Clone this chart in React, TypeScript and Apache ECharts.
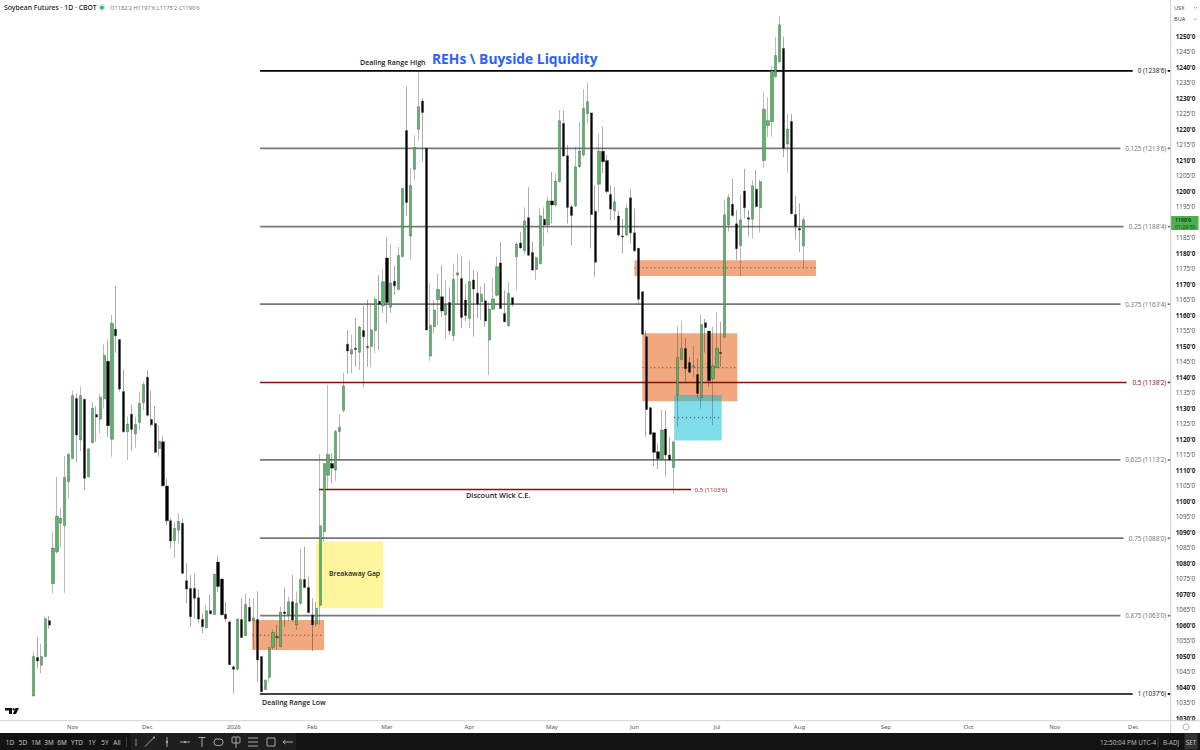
import React, { useEffect, useRef } from "react";
import * as echarts from "echarts";

// [open, close, low, high] per daily bar
const candles: number[][] = [
  [1037.1,1049.8,1037,1051.4],[1049.5,1048.4,1046,1056.2],[1047,1049.8,1044.4,1054],[1049.8,1062,1049.7,1062.7],[1061.4,1060,1058.7,1062.9],
  [1073.4,1084.8,1070.2,1090.1],[1083.6,1095.1,1083,1107.8],[1092.8,1094.5,1085.2,1097.9],[1092,1107.6,1070.4,1114.5],[1106.2,1115.1,1100.8,1115.3],
  [1113.7,1134,1113.5,1135.6],[1133.1,1121.3,1112.5,1134.7],[1119.7,1134,1116.1,1136.9],[1132.8,1107.3,1103.5,1133],[1107.8,1116.8,1107.6,1117],
  [1118.8,1129.9,1118.6,1132],[1127.9,1127.1,1119.1,1130.6],[1126.4,1133.5,1121.8,1134.5],[1132.9,1147,1129.9,1150.5],[1145.1,1124.3,1120.7,1152.1],
  [1119.9,1157.3,1114.3,1160],[1155.4,1153.3,1147.8,1169.3],[1152.1,1136.1,1135.3,1152.2],[1135.3,1122.3,1122.1,1142.5],[1122.3,1124.8,1113.2,1127.2],
  [1128,1123.1,1116.2,1131],[1121.6,1124.7,1117.2,1127.2],[1125.3,1131.5,1122.9,1135.3],[1131.7,1137.6,1129.3,1138.5],[1139.9,1127.7,1127.2,1142.2],
  [1126.3,1124.6,1124,1135.6],[1125,1115.7,1115.4,1130.6],[1116.9,1119.3,1114.3,1124.5],[1119.1,1104.9,1104.6,1120.9],[1104.8,1093.6,1092.2,1107.3],
  [1093.6,1087.1,1084.7,1094.4],[1087.2,1091.2,1081.5,1093.1],[1090.6,1093.4,1086.3,1096],[1092.8,1076.7,1076.4,1094.4],[1074.3,1071.6,1067,1079.9],
  [1071.8,1062.7,1059.4,1076.1],[1071.8,1068.6,1062.1,1076.6],[1068.8,1061.9,1060.5,1071.5],[1061.8,1059.4,1057.3,1063.7],[1059.1,1064.6,1058.9,1066.4],
  [1064.6,1063.6,1063.4,1069.7],[1063.4,1076.4,1063.2,1076.6],[1080.3,1072.4,1070.7,1082.3],[1074.8,1063.3,1063.1,1075],[1063.5,1062,1061,1067.5],
  [1061,1047.2,1047.1,1061.5],[1046.5,1045.7,1037.9,1047],[1045.7,1061.9,1045.5,1062.1],[1061.8,1056,1055.7,1068.6],[1056.5,1066.6,1056.4,1070.2],
  [1065.7,1061.2,1061,1068.6],[1061.4,1062.3,1052,1068.6],[1061.8,1048.7,1041.7,1070.9],[1049.8,1038.5,1038.3,1049.8],[1039.2,1042.2,1039,1042.4],
  [1043.1,1052.7,1041.4,1053],
  [1052.8,1057.6,1052,1058.5],[1056.2,1056,1052,1060],[1053,1064.2,1052.8,1065.9],[1064.2,1063.7,1059.4,1072.1],[1063.2,1067.5,1061.1,1069.1],
  [1067.5,1061.6,1061.1,1076.1],[1060,1067,1058.4,1070.7],[1067,1074.7,1066.4,1084.5],[1074.7,1072.1,1071.8,1085.3],[1072.1,1064,1063.7,1075.6],
  [1063.2,1060,1051.6,1068.6],[1060.3,1065.4,1059.5,1067.5],[1066.4,1092,1060,1115.2],[1090.1,1112.1,1086.9,1112.1],[1108.3,1115,1103.5,1137.4],
  [1112.1,1110.6,1105.7,1115.4],[1110,1122.4,1106.5,1123],[1122.4,1123.8,1113.2,1128],[1129.3,1137.1,1128.5,1141.4],
  [1150.6,1148.4,1141,1155.2],[1147.4,1148.8,1141.2,1153.6],[1149.3,1148.9,1143.3,1159],[1148,1156.1,1142.2,1156.5],[1155,1153,1136.7,1163],
  [1149.8,1149.5,1143.3,1165],[1149.8,1155.2,1143.3,1163.3],[1155,1165.1,1147.7,1166],[1164.4,1163.5,1148.8,1172.8],[1162.9,1170.7,1160.6,1174.8],
  [1178.4,1164,1157.4,1185],[1162.5,1170.3,1160.6,1183],[1170.9,1169.4,1166.5,1175.8],[1168.2,1179.2,1168,1182],[1178.9,1200.8,1178.6,1201],
  [1219.5,1196.3,1192,1233.7],[1185.5,1201.8,1177.8,1207.4],[1207,1214,1203.6,1218],[1219.9,1227.2,1216.2,1238.2],[1229,1225.3,1209.5,1230],
  [1213.8,1155.2,1155,1214],
  [1146.8,1156.7,1145.2,1170.2],[1156.2,1161.6,1154,1164.8],[1165,1168.2,1156.7,1173.4],[1165.9,1161.3,1159.4,1176.1],[1160,1163.2,1152.4,1171.3],
  [1164,1154.9,1153.5,1168.9],[1153.3,1171.5,1151.4,1176.6],[1172.9,1173.6,1163.7,1179.6],[1171.8,1159.2,1155.7,1178.8],[1164.8,1159.8,1158,1170],
  [1158.9,1170.8,1155.7,1177.5],[1171.3,1168.4,1153,1174.5],[1167,1163.5,1158.9,1173.9],[1164.3,1166.7,1158.4,1169.3],[1164.6,1158.1,1156.2,1170.2],
  [1151.9,1161.9,1140.6,1164],[1161.9,1165.2,1161.6,1171.8],[1166.4,1175.6,1165.9,1178.8],[1176.8,1162.1,1162,1183.6],[1160.5,1157.8,1157.6,1168],
  [1156.5,1167,1156.2,1170.7],[1165.6,1163.5,1162.7,1165.7],
  [1178.8,1182.9,1168,1183.6],[1183.2,1181.6,1181.5,1186.8],[1180.7,1190.3,1179.6,1194.7],[1191.4,1179.3,1179.1,1201.2],[1180.2,1174.5,1174.3,1183.8],
  [1174.7,1178.5,1171.3,1178.8],[1176.5,1192,1176.4,1194.4],[1190.9,1189,1182.2,1194.7],[1189,1196.8,1186.6,1198.1],[1196.8,1195.5,1189.5,1206.2],
  [1195.5,1203.2,1194.9,1205.7],[1203,1222.7,1202.8,1226.1],[1221.8,1211.3,1211,1225.9],[1211.4,1194.7,1189.5,1214.8],[1194.9,1192.1,1182.5,1195.5],
  [1195.2,1207.8,1194.9,1214.3],[1207.8,1212.9,1207.3,1222.3],[1211.6,1226.6,1211,1232.8],[1225,1228.8,1221.8,1234.9],[1225.2,1192.4,1181.5,1225.3],
  [1193.5,1177,1172.3,1201.9],[1202.2,1212.8,1193.3,1218.6],[1212.8,1209.4,1205.7,1220.7],[1209.8,1199.8,1199.2,1211.6],[1198.9,1194.2,1190.6,1201.9],
  [1193.6,1196.5,1190.6,1201.4],[1191.9,1185.8,1185.2,1193.6],[1185.5,1185.2,1179.9,1191],[1185.8,1194.4,1185.5,1196],[1197.8,1186.5,1183.1,1200.8],
  [1186.5,1180.7,1180.4,1194.4],[1181.5,1165.1,1163.2,1181.6],[1167.5,1153.8,1153.5,1167.6],
  [1153,1129.5,1120.7,1155.1],[1130.1,1121.5,1121.3,1130.4],[1122,1115.7,1111.2,1122.3],[1115.9,1113.6,1110.3,1118.6],[1113.4,1122.9,1113.2,1129.5],
  [1123.2,1114.8,1108,1129.3],[1114.8,1113.2,1113,1120.7],[1110.8,1119.1,1102.4,1119.1],[1134.2,1146.3,1123.9,1156.4],[1145.7,1149.2,1145.4,1158.1],
  [1149.2,1142.7,1138.2,1152.6],[1144.7,1141.5,1141.2,1146.5],[1143.2,1143.6,1140,1150],[1140.8,1134.7,1133.4,1146],[1133.4,1156.9,1129.8,1160.2],
  [1157.5,1156,1147.9,1158.7],[1154.8,1138.8,1136.8,1154.8],[1139.5,1143.6,1124.5,1156.2],[1143,1149.2,1142.9,1161],[1147.9,1147.6,1143.3,1157.8],
  [1152.8,1192.3,1152.5,1197.1],
  [1189,1197.9,1186.9,1199],[1195.7,1192.1,1191.7,1203.9],[1189.4,1181.4,1177.8,1193.9],[1182.4,1190.7,1172.4,1198.9],[1200,1194.6,1191.2,1207.1],
  [1191.4,1190.9,1185.3,1193.9],[1190.9,1201.7,1184.7,1203.5],[1200.6,1195,1194.6,1206.8],[1194.6,1203,1186.6,1203.6],[1209.8,1226.4,1207.5,1232],
  [1221.1,1222.7,1217.3,1230.2],[1222.4,1238.8,1217.5,1240.1],[1236.9,1243.7,1236.4,1249.6],[1241.7,1253.6,1241.2,1256.5],[1246,1213.8,1210.9,1249.8],
  [1215.2,1220,1206,1224.9],[1222.4,1192.7,1192.5,1224.9],[1192.4,1188.5,1184.4,1198.5],[1187.9,1187.4,1180.4,1196],[1182.25,1190.75,1175.25,1191.75],
];

const monthLabels = ["Nov","Dec","2026","Feb","Mar","Apr","May","Jun","Jul","Aug","Sep","Oct","Nov","Dec"];
const monthBands = [18,37,59,79,98,119,140,161,182,203,225,246,268,288];

const fibLabels = ["0 (1238'6)","0.125 (1213'6)","0.25 (1188'4)","0.375 (1163'4)","0.5 (1138'2)","0.625 (1113'2)","0.75 (1088'0)","0.875 (1063'0)","1 (1037'6)"];
const fibPrices = [1238.75,1213.75,1188.5,1163.5,1138.25,1113.25,1088,1063,1037.75];

const wickLabel = "0.5 (1103'6)";
const wickPrice = 1103.75;

// [start bar, end bar, top price, bottom price, midline price (0 = none)]
const zones: number[][] = [
  [55.7,74,1061.6,1051.9,1056.7],
  [71.9,89.1,1086.9,1065.4,0],
  [153,199.2,1177.7,1172.6,1175.2],
  [155,179.2,1154.1,1132.2,1143],
  [163.1,175.2,1134.2,1119.5,1126.9],
];

const ranges = ["1D","5D","1M","3M","6M","YTD","1Y","5Y","All"];
const hiddenTicks = [1190]; // covered by the last price tag
const topTick = 1250;

const LEAD = 8;
const BANDS = 298;
const LINE_START = 57.7;
const LINE_END = 289.5;
const WICK_START = 72.7;
const WICK_END = 167.4;
const zoneFill = ["rgba(230,81,0,0.5)","rgba(255,235,59,0.5)","rgba(230,81,0,0.5)","rgba(230,81,0,0.5)","rgba(0,188,212,0.5)"];
const annotationFont = '"Open Sans", sans-serif';
const uiFont = '"Noto Sans", sans-serif';

function fibColor(i: number) {
  if (i === 0 || i === 8) return "#000000";
  if (i === 4) return "#880e0e";
  return "#787878";
}

function txt(text: string, x: number, y: number, font: string, fill: string, textAlign = "left") {
  return { type: "text", x, y, z: 50, silent: true, style: { text, x: 0, y: 0, font, fill, textAlign, textVerticalAlign: "middle" } };
}
function seg(x1: number, y1: number, x2: number, y2: number, stroke: string, lineWidth = 1) {
  return { type: "line", z: 50, silent: true, shape: { x1, y1, x2, y2 }, style: { stroke, lineWidth } };
}
function box(x: number, y: number, width: number, height: number, fill: string, z = 48) {
  return { type: "rect", z, silent: true, shape: { x, y, width, height }, style: { fill } };
}

export default function App() {
  const ref = useRef<HTMLDivElement>(null);
  useEffect(() => {
    document.body.style.margin = "0";
    const chart = echarts.init(ref.current!, undefined, { renderer: "svg" });
    const categories = Array.from({ length: BANDS }, (_, i) => String(i));
    const padded = categories.map((_, i) => {
      const c = candles[i - LEAD];
      return c ? c : ["-","-","-","-"];
    });
    const bandLabel = (i: number) => {
      const k = monthBands.indexOf(i);
      return k >= 0 ? monthLabels[k] : "";
    };
    const icon = "#a8a8a8";
    const graphic: any[] = [
      // header
      txt("Soybean Futures · 1D · CBOT", 4, 7.5, `500 6.9px ${uiFont}`, "#222"),
      { type: "circle", z: 50, shape: { cx: 102, cy: 7.5, r: 3.6 }, style: { fill: "rgba(38,166,154,0.25)" } },
      { type: "circle", z: 50, shape: { cx: 102, cy: 7.5, r: 1.8 }, style: { fill: "#26a69a" } },
      txt("O1182'2 H1191'6 L1175'2 C1190'6", 110, 7.5, `5.7px ${uiFont}`, "#777"),
      // annotations
      txt("REHs \\ Buyside Liquidity", 432, 58, `700 13.8px ${annotationFont}`, "#2962ff"),
      txt("Dealing Range High", 360, 62.5, `600 7px ${annotationFont}`, "#222"),
      txt("Dealing Range Low", 262, 702, `600 7px ${annotationFont}`, "#222"),
      txt("Discount Wick C.E.", 466, 495, `600 7.3px ${annotationFont}`, "#222"),
      txt("Breakaway Gap", 329, 573.5, `600 6.8px ${annotationFont}`, "#222"),
      // logo
      { type: "polygon", z: 50, shape: { points: [[5,708],[12,708],[12,714],[9,714],[9,710.5],[5,710.5]] }, style: { fill: "#111" } },
      { type: "circle", z: 50, shape: { cx: 13.6, cy: 709.2, r: 1.2 }, style: { fill: "#111" } },
      { type: "polygon", z: 50, shape: { points: [[15.5,708],[19,708],[16,714],[12.8,714]] }, style: { fill: "#111" } },
      // axis frames
      seg(0, 720.7, 1200, 720.7, "#d4d4d4", 1),
      seg(1170.7, 0, 1170.7, 733, "#cfcfcf", 1),
      // currency and unit
      txt("USX", 1174, 7.5, `5.6px ${uiFont}`, "#444"),
      txt("BUA", 1174, 19, `5.6px ${uiFont}`, "#444"),
      { type: "polyline", z: 50, shape: { points: [[1194,7],[1195.5,8.5],[1197,7]] }, style: { stroke: "#888", fill: "none", lineWidth: 0.7 } },
      { type: "polyline", z: 50, shape: { points: [[1194,18.5],[1195.5,20],[1197,18.5]] }, style: { stroke: "#888", fill: "none", lineWidth: 0.7 } },
      // last price tag
      box(1171, 216, 27.5, 14, "#4caf50"),
      txt("1190'6", 1175, 219.6, `600 5.2px ${uiFont}`, "#12300f"),
      txt("01:29:55", 1175, 226.8, `5.2px ${uiFont}`, "#184a1a"),
      { type: "circle", z: 50, shape: { cx: 1186, cy: 727, r: 3 }, style: { stroke: "#888", fill: "none", lineWidth: 0.7 } },
      // bottom bar
      box(0, 733, 1200, 17, "#131313", 47),
      box(131, 733, 165, 17, "#1e1e1e"),
      seg(126.5, 737, 126.5, 747, "#3a3a3a", 1),
      seg(1158, 737, 1158, 747, "#3a3a3a", 1),
      box(1184.5, 733.5, 13, 16, "#333333"),
      txt("12:50:04 PM UTC-4", 1100, 742, `6.4px ${uiFont}`, "#b8b8b8"),
      txt("B-ADJ", 1163, 742, `6.2px ${uiFont}`, "#b8b8b8"),
      txt("SET", 1191, 742, `6.2px ${uiFont}`, "#c8c8c8", "center"),
      // drawing tools
      seg(136, 739, 136, 746, "#555", 2),
      seg(145, 746.5, 154, 737.5, icon), { type: "circle", z: 50, shape: { cx: 154, cy: 737.5, r: 1 }, style: { fill: icon } },
      seg(167, 737, 167, 747, icon), { type: "circle", z: 50, shape: { cx: 167, cy: 742, r: 1.2 }, style: { fill: icon } },
      seg(180, 742, 190, 742, icon), { type: "circle", z: 50, shape: { cx: 185, cy: 742, r: 1.2 }, style: { fill: icon } },
      seg(198.5, 737.5, 205.5, 737.5, icon), seg(202, 737.5, 202, 747, icon),
      { type: "rect", z: 50, shape: { x: 214, y: 739, width: 9, height: 6.5, r: 3 }, style: { stroke: icon, fill: "none" } },
      { type: "rect", z: 50, shape: { x: 232, y: 737, width: 8, height: 6, r: 1 }, style: { stroke: icon, fill: "none" } }, seg(236, 737, 236, 748, icon),
      seg(248, 738, 258, 738, icon), seg(248, 742, 258, 742, icon), seg(248, 746, 258, 746, icon),
      { type: "rect", z: 50, shape: { x: 267, y: 738, width: 8, height: 8 }, style: { stroke: icon, fill: "none" } },
      seg(283, 742, 293, 742, icon), seg(283, 742, 285.5, 740, icon), seg(283, 742, 285.5, 744, icon),
    ];
    const rangeX = [10,23,36,49,62,77,92,105,117];
    ranges.forEach((r, i) => graphic.push(txt(r, rangeX[i], 742, `6.4px ${uiFont}`, "#c4c4c4", "center")));

    chart.setOption({
      animation: false,
      backgroundColor: "#ffffff",
      textStyle: { fontFamily: uiFont },
      grid: { left: 0, right: 29.3, top: 5, bottom: 32, containLabel: false },
      xAxis: [
        {
          type: "category",
          data: categories,
          boundaryGap: true,
          axisLine: { show: false },
          axisTick: { show: false },
          splitLine: { show: false },
          axisLabel: {
            interval: (index: number) => bandLabel(index) !== "",
            formatter: (_v: string, index: number) => bandLabel(index),
            fontSize: 6,
            color: "#555",
            margin: 6,
            fontFamily: uiFont,
          },
        },
        { type: "value", min: -LEAD - 0.5, max: BANDS - LEAD - 0.5, show: false, splitLine: { show: false } },
      ],
      yAxis: {
        type: "value",
        position: "right",
        min: 1030,
        max: 1260,
        interval: 5,
        scale: true,
        axisLine: { show: false },
        axisTick: { show: false },
        splitLine: { show: false },
        axisLabel: {
          margin: 5,
          showMinLabel: true,
          showMaxLabel: false,
          formatter: (v: number) => {
            if (v > topTick || hiddenTicks.includes(v)) return "";
            return v % 10 === 0 ? `{b|${v}'0}` : `{r|${v}'0}`;
          },
          rich: {
            b: { fontSize: 6.3, fontWeight: 700, color: "#222", fontFamily: uiFont },
            r: { fontSize: 6.3, color: "#555", fontFamily: uiFont },
          },
        },
      },
      graphic,
      series: [
        {
          type: "custom",
          name: "zones",
          xAxisIndex: 1,
          yAxisIndex: 0,
          z: 1,
          silent: true,
          data: zones,
          renderItem: (params: any, api: any) => {
            const z = zones[params.dataIndex];
            const a = api.coord([z[0], z[2]]);
            const b = api.coord([z[1], z[3]]);
            const children: any[] = [
              { type: "rect", shape: { x: a[0], y: a[1], width: b[0] - a[0], height: b[1] - a[1] }, style: { fill: zoneFill[params.dataIndex] } },
            ];
            if (z[4]) {
              const m = api.coord([z[0], z[4]]);
              children.push({ type: "line", shape: { x1: a[0], y1: m[1], x2: b[0], y2: m[1] }, style: { stroke: "#333", lineWidth: 0.9, lineDash: [1, 3] } });
            }
            return { type: "group", children };
          },
        },
        {
          type: "custom",
          name: "fib",
          xAxisIndex: 1,
          yAxisIndex: 0,
          z: 2,
          silent: true,
          data: fibPrices.map((p) => [LINE_START, p]),
          renderItem: (params: any, api: any) => {
            const i = params.dataIndex;
            const a = api.coord([LINE_START, fibPrices[i]]);
            const b = api.coord([LINE_END, fibPrices[i]]);
            const color = fibColor(i);
            const gap = fibLabels[i].length * 3.05 + 3;
            const textRight = b[0] - 4.5;
            const lw = i === 4 ? 1.5 : 1.7;
            return {
              type: "group",
              children: [
                { type: "line", shape: { x1: a[0], y1: a[1], x2: textRight - gap, y2: a[1] }, style: { stroke: color, lineWidth: lw } },
                { type: "line", shape: { x1: b[0] - 3, y1: a[1], x2: b[0], y2: a[1] }, style: { stroke: color, lineWidth: lw } },
                { type: "text", style: { text: fibLabels[i], x: textRight, y: a[1], fill: i === 0 || i === 8 ? "#222" : i === 4 ? "#880e0e" : "#777", font: `6.3px ${uiFont}`, textAlign: "right", textVerticalAlign: "middle" } },
              ],
            };
          },
        },
        {
          type: "custom",
          name: "wick",
          xAxisIndex: 1,
          yAxisIndex: 0,
          z: 2,
          silent: true,
          data: [[WICK_START, wickPrice]],
          renderItem: (_params: any, api: any) => {
            const a = api.coord([WICK_START, wickPrice]);
            const b = api.coord([WICK_END, wickPrice]);
            return {
              type: "group",
              children: [
                { type: "line", shape: { x1: a[0], y1: a[1], x2: b[0], y2: a[1] }, style: { stroke: "#880e0e", lineWidth: 1.5 } },
                { type: "text", style: { text: wickLabel, x: b[0] + 3.5, y: a[1], fill: "#9c2a2a", font: `6.1px ${uiFont}`, textAlign: "left", textVerticalAlign: "middle" } },
              ],
            };
          },
        },
        {
          type: "candlestick",
          name: "Soybean Futures",
          xAxisIndex: 0,
          yAxisIndex: 0,
          z: 3,
          silent: true,
          barWidth: 2.7,
          data: padded,
          itemStyle: {
            color: "#52b964",
            color0: "#000000",
            borderColor: "rgba(60,60,60,0.45)",
            borderColor0: "rgba(40,40,40,0.5)",
            borderWidth: 0.8,
          },
        },
      ],
    });
    return () => chart.dispose();
  }, []);
  return <div ref={ref} style={{ position: "absolute", left: 0, top: 0, width: 1200, height: 750 }} />;
}
